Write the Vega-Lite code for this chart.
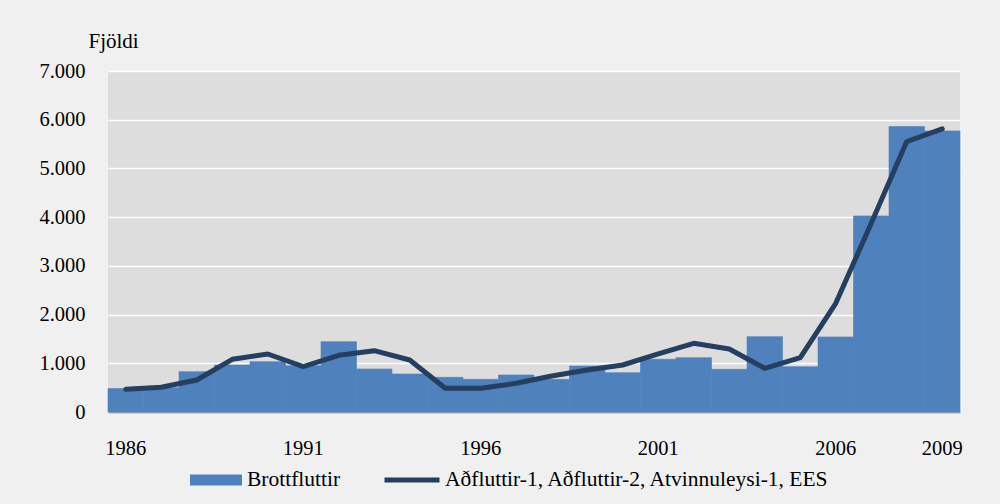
{
  "$schema": "https://vega.github.io/schema/vega-lite/v6.json",
  "width": 852,
  "height": 341,
  "autosize": {"type": "none"},
  "padding": {"left": 108, "top": 71, "right": 40, "bottom": 92},
  "background": "#f0f0f0",
  "config": {
    "font": "Liberation Serif, Times New Roman, serif",
    "view": {"fill": "#dddddd", "stroke": null},
    "axisY": {
      "domain": false,
      "ticks": false,
      "labelFontSize": 20.5,
      "labelColor": "#000000",
      "labelPadding": 23,
      "labelFont": "Liberation Serif, Times New Roman, serif",
      "gridColor": "#ffffff",
      "gridWidth": 1.5,
      "gridOpacity": 1,
      "titleAngle": 0,
      "titleX": -20,
      "titleY": -24,
      "titleAlign": "left",
      "titleBaseline": "alphabetic",
      "titleFontSize": 21,
      "titleFontWeight": "normal",
      "titleFont": "Liberation Serif, Times New Roman, serif",
      "titleColor": "#000000"
    },
    "axisX": {
      "domain": true,
      "domainColor": "#a6a6a6",
      "domainWidth": 2,
      "ticks": false,
      "grid": false,
      "labelFontSize": 20.5,
      "labelFont": "Liberation Serif, Times New Roman, serif",
      "labelColor": "#000000",
      "labelAngle": 0,
      "labelPadding": 26
    },
    "legend": {
      "labelFont": "Liberation Serif, Times New Roman, serif",
      "labelFontSize": 21.5,
      "labelColor": "#000000",
      "labelLimit": 500
    }
  },
  "data": {
    "values": [
      {"year": 1986, "brott": 480, "adf": 466},
      {"year": 1987, "brott": 500, "adf": 507},
      {"year": 1988, "brott": 828, "adf": 657},
      {"year": 1989, "brott": 965, "adf": 1082},
      {"year": 1990, "brott": 1033, "adf": 1191},
      {"year": 1991, "brott": 950, "adf": 930},
      {"year": 1992, "brott": 1444, "adf": 1164},
      {"year": 1993, "brott": 883, "adf": 1259},
      {"year": 1994, "brott": 780, "adf": 1068},
      {"year": 1995, "brott": 712, "adf": 486},
      {"year": 1996, "brott": 671, "adf": 486},
      {"year": 1997, "brott": 760, "adf": 589},
      {"year": 1998, "brott": 671, "adf": 739},
      {"year": 1999, "brott": 945, "adf": 862},
      {"year": 2000, "brott": 808, "adf": 965},
      {"year": 2001, "brott": 1082, "adf": 1191},
      {"year": 2002, "brott": 1116, "adf": 1410},
      {"year": 2003, "brott": 876, "adf": 1294},
      {"year": 2004, "brott": 1547, "adf": 897},
      {"year": 2005, "brott": 930, "adf": 1116},
      {"year": 2006, "brott": 1540, "adf": 2231},
      {"year": 2007, "brott": 4025, "adf": 3874},
      {"year": 2008, "brott": 5860, "adf": 5551},
      {"year": 2009, "brott": 5770, "adf": 5811}
    ]
  },
  "encoding": {
    "x": {
      "field": "year",
      "type": "ordinal",
      "scale": {"paddingInner": 0, "paddingOuter": 0},
      "axis": {"title": null, "values": [1986, 1991, 1996, 2001, 2006, 2009]}
    }
  },
  "layer": [
    {
      "mark": {"type": "bar", "stroke": "#4f81bd", "strokeWidth": 0.6},
      "encoding": {
        "y": {
          "field": "brott",
          "type": "quantitative",
          "scale": {"domain": [0, 7000]},
          "axis": {
            "title": "Fjöldi",
            "values": [0, 1000, 2000, 3000, 4000, 5000, 6000, 7000],
            "labelExpr": "replace(format(datum.value, ','), ',', '.')"
          }
        },
        "fill": {
          "datum": "Brottfluttir",
          "type": "nominal",
          "scale": {"range": ["#4f81bd"]},
          "legend": {
            "orient": "none",
            "legendX": 82,
            "legendY": 383,
            "title": null,
            "padding": 0,
            "symbolType": "M-1,-0.21H1V0.21H-1Z",
            "symbolSize": 2704,
            "symbolStrokeWidth": 0,
            "labelOffset": 5
          }
        }
      }
    },
    {
      "mark": {"type": "line", "strokeWidth": 5, "strokeCap": "round", "strokeJoin": "round"},
      "encoding": {
        "y": {
          "field": "adf",
          "type": "quantitative",
          "axis": {
            "title": "Fjöldi",
            "values": [0, 1000, 2000, 3000, 4000, 5000, 6000, 7000],
            "labelExpr": "replace(format(datum.value, ','), ',', '.')"
          }
        },
        "stroke": {
          "datum": "Aðfluttir-1, Aðfluttir-2, Atvinnuleysi-1, EES",
          "type": "nominal",
          "scale": {"range": ["#243f60"]},
          "legend": {
            "orient": "none",
            "legendX": 274,
            "legendY": 379,
            "title": null,
            "padding": 0,
            "symbolType": "stroke",
            "symbolSize": 3025,
            "symbolStrokeWidth": 5,
            "labelOffset": 3
          }
        }
      }
    }
  ]
}
